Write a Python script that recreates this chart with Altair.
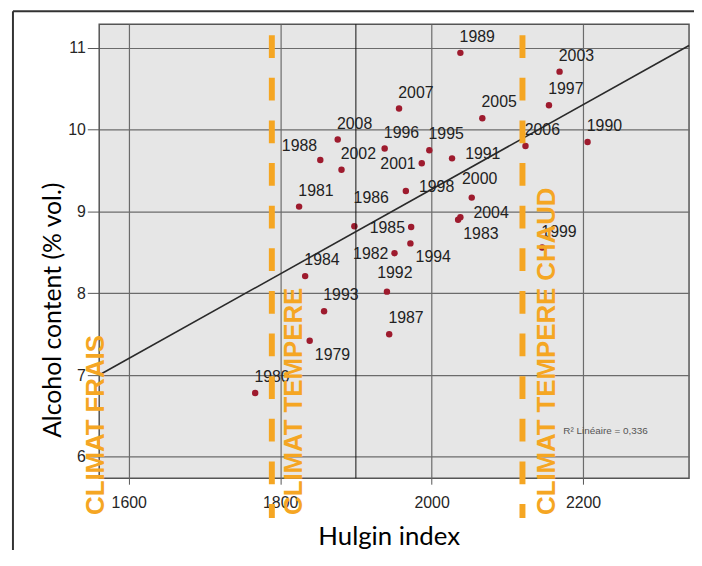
import altair as alt
import pandas as pd

# ---------------- data ----------------
years = [1979, 1980, 1981, 1982, 1983, 1984, 1985, 1986, 1987, 1988,
         1989, 1990, 1991, 1992, 1993, 1994, 1995, 1996, 1997, 1998,
         1999, 2000, 2001, 2002, 2003, 2004, 2005, 2006, 2007, 2008]
hulgin = [1839, 1767, 1825, 1951, 2035, 1833, 1973, 1898, 1944, 1853,
          2038, 2206, 2027, 1941, 1858, 1972, 1997, 1938, 2155, 1966,
          2146, 2053, 1987, 1881, 2169, 2038, 2067, 2124, 1957, 1876]
alcohol = [7.42, 6.78, 9.06, 8.49, 8.90, 8.21, 8.81, 8.82, 7.50, 9.63,
           10.94, 9.85, 9.65, 8.02, 7.78, 8.61, 9.75, 9.77, 10.30, 9.25,
           8.56, 9.17, 9.59, 9.51, 10.71, 8.93, 10.14, 9.80, 10.26, 9.88]
# where each year label sits relative to its point
label_pos = ["lr", "ur", "ur", "l", "lr", "ur", "l", "uu", "ur", "ul",
             "ur", "ur", "r", "u", "ur", "lr", "ur", "ur", "ur", "r",
             "ur", "u", "l", "ur", "ur", "r", "ur", "ur", "ur", "ur"]

x_ticks = [1600, 1800, 2000, 2200]
y_ticks = [6, 7, 8, 9, 10, 11]
fit_x = [1561, 2340]
fit_y = [7.00, 11.03]
zone_bounds = [1789, 2120]
zone_names = ["CLIMAT FRAIS", "CLIMAT TEMPERE", "CLIMAT TEMPERE CHAUD"]
zone_label_x = [1557, 1819, 2153]
mean_x = [1900]
r2_text = ["R\u00b2 Lin\u00e9aire = 0,336"]
r2_x = [2174]
r2_y = [6.32]

# ---------------- styles ----------------
X_DOMAIN = [1561, 2340]
Y_DOMAIN = [5.738, 11.29]
W, H = 595, 458
ORANGE = "#F5A623"
DOT = "#9E1B2E"
offsets = {"ur": (17, -16), "u": (8, -19), "uu": (17, -28), "ul": (-21, -14),
           "l": (-24, 1), "lr": (23, 14), "r": (31, -4)}

pts = pd.DataFrame({"x": hulgin, "y": alcohol, "year": [str(v) for v in years],
                    "pos": label_pos})
fit = pd.DataFrame({"x": fit_x, "y": fit_y})
bounds = pd.DataFrame({"x": zone_bounds})
zones = pd.DataFrame({"x": zone_label_x, "name": zone_names})
mean_df = pd.DataFrame({"x": mean_x})
r2_df = pd.DataFrame({"x": r2_x, "y": r2_y, "t": r2_text})

xaxis = alt.Axis(values=x_ticks, format="d", title="Hulgin index", grid=True,
                 gridColor="#6b6b6b", gridWidth=1.2, domain=False,
                 tickColor="#555", tickSize=6, labelPadding=10,
                 labelFont="Liberation Sans", labelFontSize=16, labelColor="#262626",
                 titleFont="Lato", titleFontSize=26, titleFontWeight="normal",
                 titleColor="#000", titleX=292, titleY=67,
                 titleBaseline="alphabetic", titleAlign="center")
yaxis = alt.Axis(values=y_ticks, format="d", title="Alcohol content (% vol.)", grid=True,
                 gridColor="#6b6b6b", gridWidth=1.2, domain=False,
                 tickColor="#555", tickSize=12, labelPadding=2,
                 labelFont="Liberation Sans", labelFontSize=16, labelColor="#262626",
                 titleFont="Lato", titleFontSize=25, titleFontWeight="normal",
                 titleColor="#000", titleAngle=270, titleX=-47, titleY=288,
                 titleAlign="center", titleBaseline="middle")


def X(field="x"):
    return alt.X(f"{field}:Q", scale=alt.Scale(domain=X_DOMAIN, nice=False, zero=False),
                 axis=xaxis)


def Y(field="y"):
    return alt.Y(f"{field}:Q", scale=alt.Scale(domain=Y_DOMAIN, nice=False, zero=False),
                 axis=yaxis)


points = alt.Chart(pts).mark_circle(size=42, color=DOT, opacity=1).encode(x=X(), y=Y())

mean_rule = alt.Chart(mean_df).mark_rule(color="#111", strokeWidth=1).encode(
    x=X(), y=alt.value(0), y2=alt.value(H))

fit_line = alt.Chart(fit).mark_line(color="#2a2a2a", strokeWidth=1.6).encode(x=X(), y=Y())

label_layers = []
for key, (dx, dy) in offsets.items():
    label_layers.append(
        alt.Chart(pts).transform_filter(alt.datum.pos == key).mark_text(
            dx=dx, dy=dy, align="center", baseline="middle", font="Liberation Sans",
            fontSize=16, color="#222").encode(x=X(), y=Y(), text="year:N"))

r2 = alt.Chart(r2_df).mark_text(align="left", baseline="middle", font="Liberation Sans",
                                 fontSize=10, color="#555").encode(x=X(), y=Y(), text="t:N")

dashes = alt.Chart(bounds).mark_rule(color=ORANGE, strokeWidth=6, strokeDash=[23, 20]).encode(
    x=X(), y=alt.value(11), y2=alt.value(498))

zone_text = alt.Chart(zones).mark_text(angle=270, align="left", baseline="middle",
                                       font="Liberation Sans", fontSize=26, fontWeight="bold",
                                       color=ORANGE).encode(
    x=X(), y=alt.value(495), text="name:N")

frame_top = alt.Chart(mean_df).mark_rule(color="#333", strokeWidth=2).encode(
    x=alt.value(-87), x2=alt.value(620), y=alt.value(-13))
frame_left = alt.Chart(mean_df).mark_rule(color="#333", strokeWidth=2).encode(
    x=alt.value(-87), y=alt.value(-13), y2=alt.value(560))

chart = alt.layer(points, mean_rule, fit_line, *label_layers, r2, dashes, zone_text,
                  frame_top, frame_left).properties(
    width=W, height=H,
    autosize=alt.AutoSizeParams(type="none"),
    padding={"left": 92, "top": 14, "right": 5, "bottom": 70},
).configure_view(fill="#e6e6e6", stroke="#555", strokeWidth=1.5)

chart.save("out.html", embed_options={"renderer": "svg", "actions": False})
